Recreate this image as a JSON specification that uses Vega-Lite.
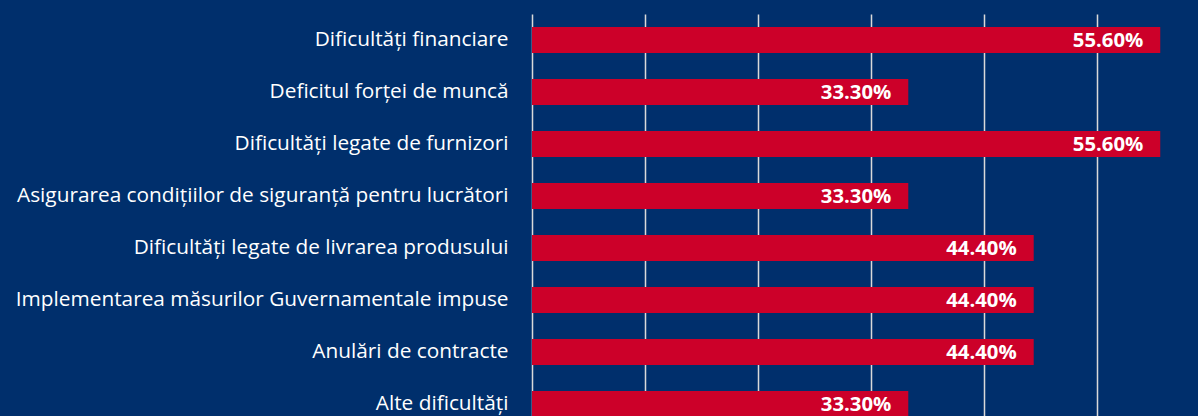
{
  "$schema": "https://vega.github.io/schema/vega-lite/v6.json",
  "autosize": "none",
  "padding": {"left": 532, "top": 14, "right": 0, "bottom": 0},
  "width": 666,
  "height": 416,
  "background": "#002F6C",
  "config": {"view": {"stroke": null}},
  "data": {"values": [
    {"cat": "Dificultăți financiare", "v": 0.556},
    {"cat": "Deficitul forței de muncă", "v": 0.333},
    {"cat": "Dificultăți legate de furnizori", "v": 0.556},
    {"cat": "Asigurarea condițiilor de siguranță pentru lucrători", "v": 0.333},
    {"cat": "Dificultăți legate de livrarea produsului", "v": 0.444},
    {"cat": "Implementarea măsurilor Guvernamentale impuse\u00a0", "v": 0.444},
    {"cat": "Anulări de contracte", "v": 0.444},
    {"cat": "Alte dificultăți", "v": 0.333}
  ]},
  "encoding": {
    "y": {"field": "cat", "type": "nominal", "sort": null,
      "scale": {"paddingInner": 0.5, "paddingOuter": 0.25},
      "axis": {"title": null, "domain": false, "ticks": false, "labelPadding": 24,
        "labelColor": "#FFFFFF", "labelFont": "Open Sans", "labelFontSize": 20.8, "labelLimit": 600}},
    "x": {"field": "v", "type": "quantitative",
      "scale": {"domain": [0, 0.5894], "nice": false, "zero": true},
      "axis": {"title": null, "labels": false, "ticks": false, "domain": false,
        "values": [0, 0.1, 0.2, 0.3, 0.4, 0.5], "grid": true, "gridColor": "#D9D9D9", "gridWidth": 1.5}}
  },
  "layer": [
    {"mark": {"type": "bar", "color": "#CC0029"}},
    {"mark": {"type": "text", "align": "right", "baseline": "middle", "dx": -17, "dy": 1,
      "color": "#FFFFFF", "font": "Open Sans", "fontWeight": "bold", "fontSize": 20.3},
      "encoding": {"text": {"field": "v", "type": "quantitative", "format": ".2%"}}}
  ]
}
